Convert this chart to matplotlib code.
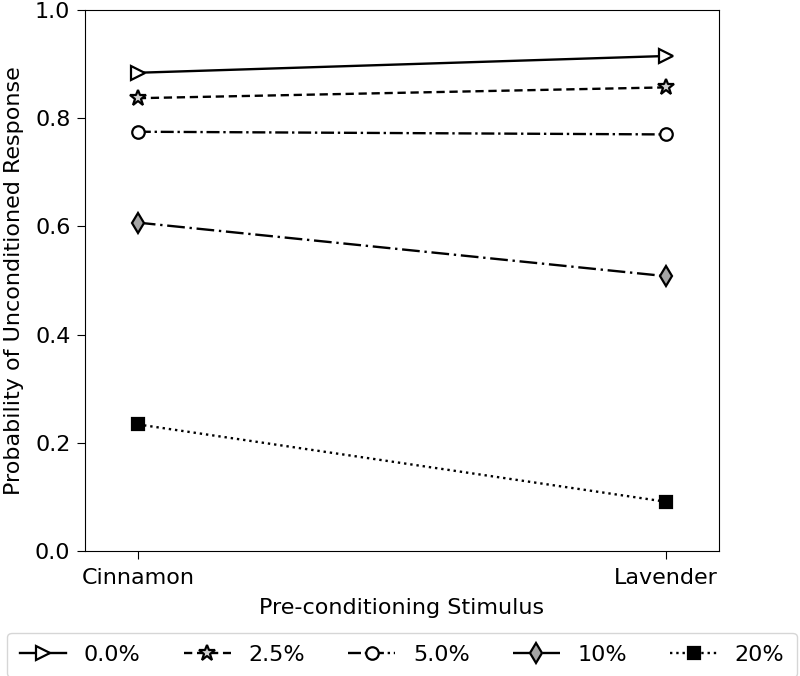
import matplotlib
matplotlib.use("Agg")
import matplotlib.pyplot as plt

categories = ["Cinnamon", "Lavender"]
series_labels = ["0.0%", "2.5%", "5.0%", "10%", "20%"]
values_00 = [0.884, 0.915]
values_25 = [0.837, 0.857]
values_50 = [0.775, 0.770]
values_10 = [0.607, 0.508]
values_20 = [0.234, 0.091]

fig = plt.figure(figsize=(8, 6.76), dpi=100)
ax = fig.add_axes([0.10625, 0.1849, 0.7925, 0.8003])

x = list(range(len(categories)))
styles = [
    dict(values=values_00, ls="-", marker=">", mfc="white", ms=9.5),
    dict(values=values_25, ls=(0, (3.5, 2)), marker="*", mfc="#d0d0d0", ms=12),
    dict(values=values_50, ls=(0, (5.5, 1.6, 1, 1.6)), marker="o", mfc="white", ms=9),
    dict(values=values_10, ls=(0, (7.5, 2, 1, 2)), marker="d", mfc="#a5a5a5", ms=10),
    dict(values=values_20, ls=":", marker="s", mfc="black", ms=8),
]
for lab, st in zip(series_labels, styles):
    ax.plot(x, st["values"], color="black", linestyle=st["ls"], lw=1.7,
            marker=st["marker"], markerfacecolor=st["mfc"], markeredgecolor="black",
            markeredgewidth=1.6, markersize=st["ms"], label=lab)

ax.set_xlim(-0.1, 1.1)
ax.set_ylim(0.0, 1.0)
ax.set_xticks(x)
ax.set_xticklabels(categories)
ax.tick_params(labelsize=16, length=5.5, pad=5)
ax.tick_params(axis="x", pad=6.5)
ax.set_xlabel("Pre-conditioning Stimulus", fontsize=16, labelpad=7.5)
ax.set_ylabel("Probability of Unconditioned Response", fontsize=16, labelpad=7.5)

ax.legend(loc="upper center", bbox_to_anchor=(0.5025, 0.0636), bbox_transform=fig.transFigure,
          borderaxespad=0, ncol=5, fontsize=16, frameon=True, handlelength=2.1,
          columnspacing=1.95, borderpad=0.55)

fig.savefig("out.png", dpi=100)
